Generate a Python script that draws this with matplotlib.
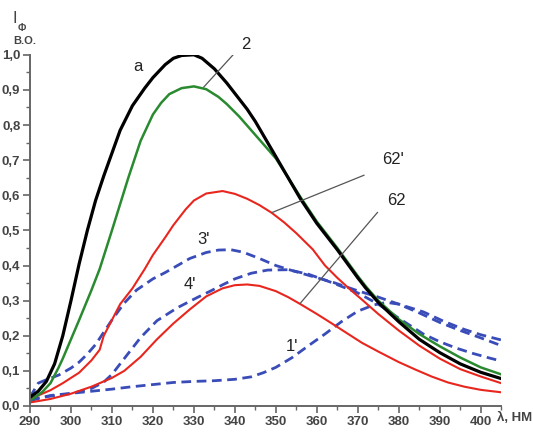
import matplotlib
matplotlib.use("Agg")
import matplotlib.pyplot as plt
from matplotlib.ticker import MultipleLocator, FuncFormatter

plt.rcParams['font.family'] = ['Liberation Sans', 'DejaVu Sans']

# curve a (black)
lam_a = [290, 292, 294, 296, 298, 300, 302, 304, 306, 308, 310, 312, 315, 318, 320,
         323, 325, 327, 330, 332, 335, 338, 340, 343, 345, 348, 350, 353, 356, 360,
         365, 370, 372, 375, 378, 380, 385, 390, 395, 400, 405]
int_a = [0.025, 0.042, 0.07, 0.12, 0.20, 0.30, 0.405, 0.50, 0.585, 0.655, 0.72, 0.785, 0.855,
         0.905, 0.935, 0.972, 0.99, 0.998, 1.0, 0.99, 0.96, 0.92, 0.89, 0.845, 0.81, 0.75,
         0.71, 0.65, 0.59, 0.52, 0.445, 0.365, 0.335, 0.295, 0.262, 0.24, 0.19, 0.152,
         0.12, 0.096, 0.078]

# curve 2 (green)
lam_2 = [290, 293, 295, 297, 298, 300, 302, 305, 307, 310, 312, 314, 317, 320, 322, 324, 327,
         330, 333, 336, 338, 341, 344, 347, 350, 353, 356, 360, 365, 370, 372, 375, 380,
         385, 390, 395, 400, 405]
int_2 = [0.015, 0.04, 0.065, 0.11, 0.135, 0.19, 0.245, 0.33, 0.39, 0.50, 0.575, 0.65, 0.755,
         0.83, 0.863, 0.888, 0.905, 0.91, 0.902, 0.88, 0.86, 0.825, 0.785, 0.745, 0.705,
         0.65, 0.595, 0.525, 0.45, 0.37, 0.34, 0.30, 0.247, 0.205, 0.17, 0.138, 0.11, 0.09]

# curve 62' (red, upper)
lam_62s = [290, 295, 298, 302, 305, 306, 307, 308, 310, 312, 315, 318, 320, 323, 325, 328,
           330, 333, 337, 340, 343, 346, 349, 352, 355, 359, 362, 365, 368, 371, 375, 380,
           385, 390, 395, 400, 405]
int_62s = [0.02, 0.045, 0.065, 0.095, 0.13, 0.145, 0.16, 0.20, 0.245, 0.29, 0.335, 0.39,
           0.43, 0.48, 0.515, 0.56, 0.585, 0.605, 0.612, 0.604, 0.59, 0.572, 0.55, 0.523,
           0.492, 0.446, 0.40, 0.365, 0.333, 0.303, 0.262, 0.215, 0.172, 0.135, 0.105, 0.084,
           0.065]

# curve 62 (red, lower)
lam_62 = [290, 295, 300, 305, 310, 313, 317, 321, 325, 329, 333, 337, 340, 343, 346, 350,
          353, 356, 360, 363, 367, 371, 375, 380, 384, 388, 392, 396, 400, 405]
int_62 = [0.01, 0.02, 0.035, 0.055, 0.08, 0.10, 0.14, 0.19, 0.235, 0.275, 0.312, 0.335,
          0.344, 0.346, 0.342, 0.327, 0.31, 0.29, 0.262, 0.24, 0.21, 0.18, 0.155, 0.125,
          0.104, 0.084, 0.067, 0.055, 0.046, 0.039]

# curve 3' (blue dashed)
lam_3 = [290, 292, 294, 297, 300, 302, 304, 306, 308, 310, 313, 316, 320, 323, 326, 329,
         333, 336, 339, 342, 346, 350, 353, 358, 364, 370, 375, 380, 386, 391, 396, 400, 405]
int_3 = [0.025, 0.065, 0.075, 0.088, 0.108, 0.125, 0.148, 0.175, 0.21, 0.245, 0.293, 0.33,
         0.362, 0.38, 0.40, 0.42, 0.437, 0.444, 0.445, 0.438, 0.42, 0.40, 0.389, 0.372,
         0.352, 0.328, 0.31, 0.29, 0.268, 0.241, 0.218, 0.203, 0.188]

# curve 4' (blue dashed)
lam_4 = [290, 295, 300, 305, 308, 310, 313, 317, 321, 326, 331, 334, 337, 340, 344, 348,
         353, 358, 364, 370, 375, 380, 386, 390, 394, 398, 402, 405]
int_4 = [0.02, 0.028, 0.035, 0.05, 0.068, 0.09, 0.135, 0.195, 0.243, 0.28, 0.31, 0.327,
         0.345, 0.362, 0.378, 0.387, 0.388, 0.375, 0.35, 0.322, 0.29, 0.25, 0.205, 0.183,
         0.165, 0.15, 0.137, 0.128]

# curve 1' (blue dashed)
lam_1 = [290, 295, 300, 305, 310, 315, 320, 325, 330, 335, 340, 344, 347, 350, 354, 358,
         362, 366, 370, 374, 377, 380, 385, 390, 395, 400, 405]
int_1 = [0.015, 0.03, 0.036, 0.042, 0.048, 0.055, 0.061, 0.067, 0.07, 0.072, 0.076, 0.083,
         0.095, 0.11, 0.138, 0.172, 0.205, 0.24, 0.27, 0.288, 0.295, 0.29, 0.265, 0.238,
         0.215, 0.194, 0.172]

fig = plt.figure(figsize=(5.33, 4.32), dpi=100)
ax = fig.add_axes([0.0563, 0.0602, 0.884, 0.813])

blue = '#3a4cb8'
ax.plot(lam_1, int_1, color=blue, lw=2.0, dashes=(3.5, 2))
ax.plot(lam_4, int_4, color=blue, lw=2.0, dashes=(3.5, 2))
ax.plot(lam_3, int_3, color=blue, lw=2.0, dashes=(3.5, 2))
ax.plot(lam_62, int_62, color='#e8261e', lw=1.5)
ax.plot(lam_62s, int_62s, color='#e8261e', lw=1.5)
ax.plot(lam_2, int_2, color='#2a8a30', lw=1.8)
ax.plot(lam_a, int_a, color='black', lw=2.3)

# pointer lines for labels
lc = '#555555'
ax.plot([332.4, 340.9], [0.908, 1.017], color=lc, lw=0.9)
ax.plot([349.1, 371.5], [0.551, 0.657], color=lc, lw=0.9)
ax.plot([356.0, 374.8], [0.293, 0.551], color=lc, lw=0.9)

lab = dict(fontsize=12, color='#222222', ha='center', va='center')
ax.text(316.4, 0.966, 'a', **lab)
ax.text(342.6, 1.03, '2', clip_on=False, **lab)
ax.text(378.6, 0.703, "62'", **lab)
ax.text(379.4, 0.584, '62', **lab)
ax.text(332.4, 0.474, "3'", **lab)
ax.text(329.1, 0.346, "4'", **lab)
ax.text(354.0, 0.169, "1'", **lab)

ax.set_xlim(290, 405)
ax.set_ylim(0, 1.0)
ax.xaxis.set_major_locator(MultipleLocator(10))
ax.xaxis.set_minor_locator(MultipleLocator(5))
ax.yaxis.set_major_locator(MultipleLocator(0.1))
ax.yaxis.set_minor_locator(MultipleLocator(0.05))
ax.yaxis.set_major_formatter(FuncFormatter(lambda v, p: f'{v:.1f}'.replace('.', ',')))
ax.xaxis.set_major_formatter(FuncFormatter(lambda v, p: f'{v:.0f}'))

for s in ['top', 'right']:
    ax.spines[s].set_visible(False)
for s in ['left', 'bottom']:
    ax.spines[s].set_color('#666666')
    ax.spines[s].set_linewidth(1.4)
ax.tick_params(which='major', direction='out', length=5, width=1.2, color='#666666',
               labelsize=9.5, labelcolor='#444444', pad=2)
ax.tick_params(which='minor', direction='out', length=3, width=1.0, color='#666666')
for t in ax.get_xticklabels() + ax.get_yticklabels():
    t.set_fontweight('bold')

fig.text(0.028, 0.958, 'I', fontsize=12, color='#444444', ha='center', va='center')
fig.text(0.04, 0.936, 'Ф', fontsize=7, color='#444444', ha='center', va='center',
         fontweight='bold')
fig.text(0.047, 0.905, 'В.О.', fontsize=8, color='#444444', ha='center', va='center',
         fontweight='bold')
fig.text(0.932, 0.032, 'λ, НМ', fontsize=9.5, color='#444444', ha='left', va='center',
         fontweight='bold')

fig.savefig('out.png', dpi=100)
